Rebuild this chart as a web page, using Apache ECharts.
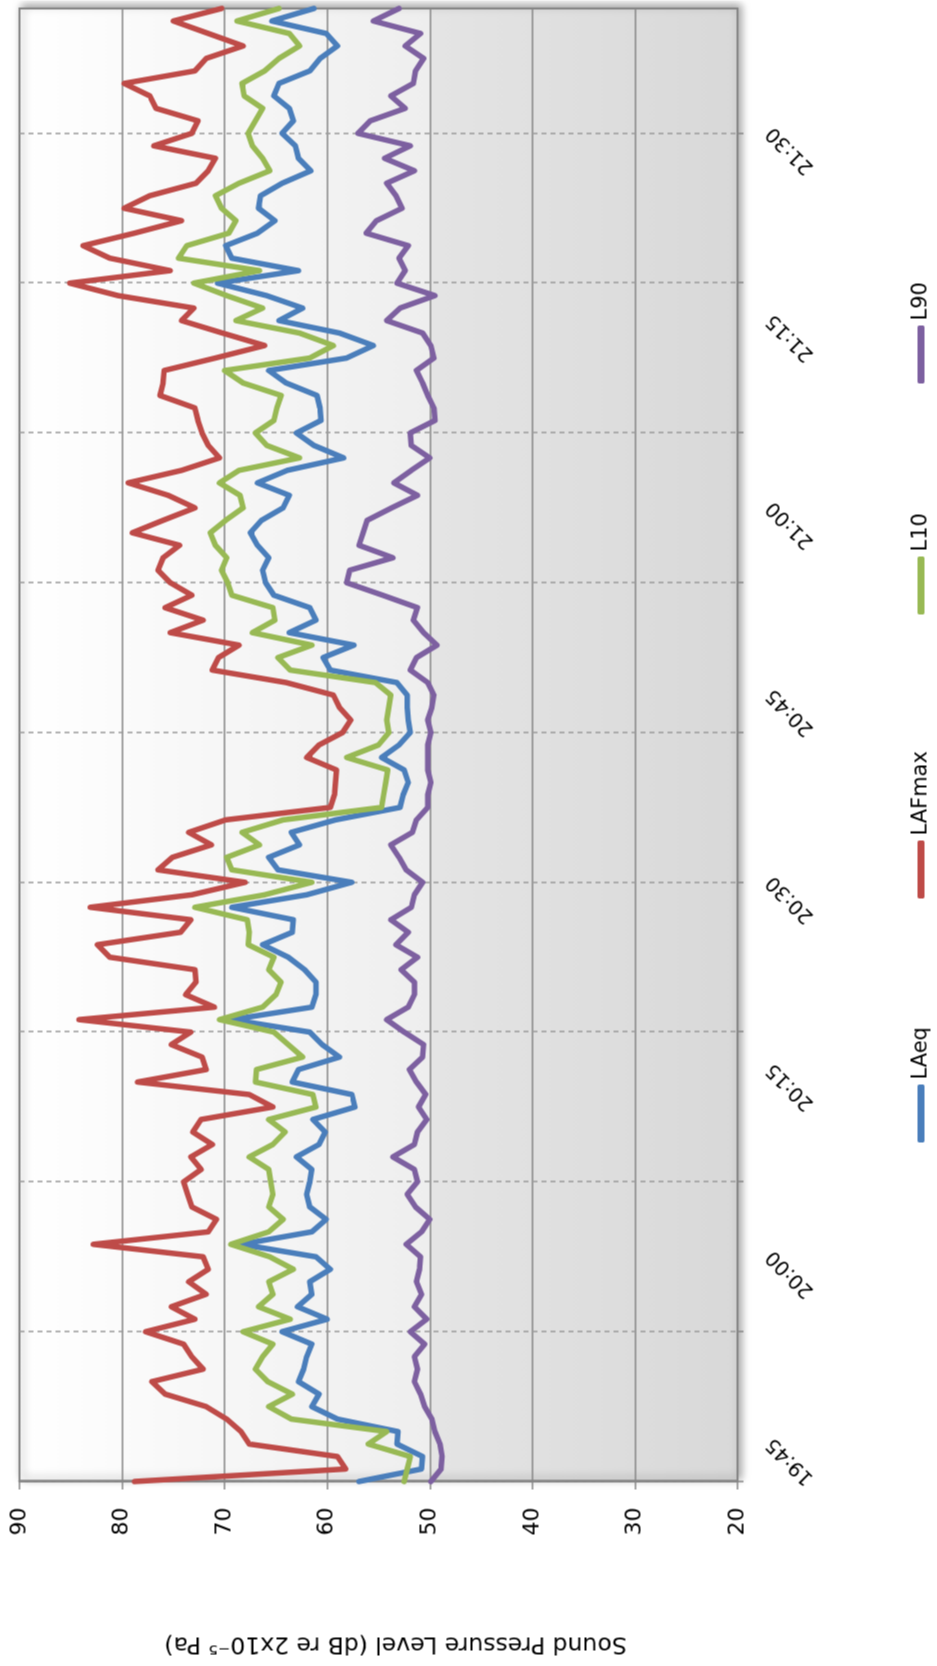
<!DOCTYPE html>
<html>
<head>
<meta charset="utf-8">
<script src="https://cdn.jsdelivr.net/npm/echarts@6/dist/echarts.min.js"></script>
<style>
  html, body { margin: 0; padding: 0; background: #fff; overflow: hidden; }
  body { width: 937px; height: 1666px; position: relative; }
  /* chart is laid out landscape, then turned a quarter turn anticlockwise */
  #chart {
    position: absolute;
    width: 1666px;
    height: 937px;
    left: -364.5px;
    top: 364.5px;
    transform: rotate(-90deg);
  }
</style>
</head>
<body>
<div id="chart"></div>
<script>
// one reading per minute, 19:45 - 21:43
const times = [
  '19:45','19:46','19:47','19:48','19:49','19:50','19:51','19:52','19:53','19:54','19:55','19:56','19:57','19:58','19:59',
  '20:00','20:01','20:02','20:03','20:04','20:05','20:06','20:07','20:08','20:09','20:10','20:11','20:12','20:13','20:14',
  '20:15','20:16','20:17','20:18','20:19','20:20','20:21','20:22','20:23','20:24','20:25','20:26','20:27','20:28','20:29',
  '20:30','20:31','20:32','20:33','20:34','20:35','20:36','20:37','20:38','20:39','20:40','20:41','20:42','20:43','20:44',
  '20:45','20:46','20:47','20:48','20:49','20:50','20:51','20:52','20:53','20:54','20:55','20:56','20:57','20:58','20:59',
  '21:00','21:01','21:02','21:03','21:04','21:05','21:06','21:07','21:08','21:09','21:10','21:11','21:12','21:13','21:14',
  '21:15','21:16','21:17','21:18','21:19','21:20','21:21','21:22','21:23','21:24','21:25','21:26','21:27','21:28','21:29',
  '21:30','21:31','21:32','21:33','21:34','21:35','21:36','21:37','21:38','21:39','21:40','21:41','21:42','21:43'
];

const laeq = [
  56.9, 50.8, 50.7, 53.2, 53.1, 59.0, 61.5, 60.8, 62.8, 62.3, 62.0, 61.5, 64.4, 60.0, 62.9,
  61.5, 61.7, 59.7, 61.1, 68.4, 61.5, 60.1, 61.7, 62.0, 61.7, 61.5, 63.0, 60.8, 60.2, 61.4,
  57.3, 57.6, 63.4, 62.8, 58.8, 60.5, 61.7, 69.3, 61.5, 61.1, 61.1, 62.2, 63.8, 66.3, 63.4,
  63.3, 69.3, 62.0, 57.6, 64.8, 65.7, 62.7, 63.5, 59.2, 52.9, 52.6, 52.1, 52.5, 54.7, 53.0,
  51.9, 52.1, 52.2, 52.2, 53.2, 59.7, 60.4, 57.4, 63.7, 61.1, 61.7, 65.2, 66.0, 66.3, 65.7,
  66.8, 67.5, 66.4, 64.3, 63.7, 66.8, 63.9, 58.4, 61.3, 63.0, 60.6, 60.7, 61.0, 64.0, 65.7,
  58.1, 55.5, 58.8, 64.7, 62.4, 65.9, 70.7, 62.8, 69.3, 69.9, 66.8, 65.1, 66.7, 66.5, 64.4,
  61.6, 62.8, 63.1, 64.4, 63.3, 63.7, 65.2, 64.7, 61.7, 60.7, 59.0, 60.1, 65.4, 61.3
];

const lafmax = [
  78.8, 58.2, 59.0, 67.6, 68.4, 69.8, 71.8, 75.8, 77.1, 72.1, 73.2, 74.0, 77.7, 72.9, 75.2,
  71.8, 73.5, 71.6, 72.1, 82.8, 71.6, 70.8, 73.2, 73.6, 74.0, 72.3, 73.3, 71.2, 73.1, 72.3,
  65.3, 67.6, 78.5, 71.8, 72.2, 75.2, 73.3, 84.2, 71.0, 73.8, 72.8, 72.9, 81.2, 82.4, 74.3,
  73.3, 83.1, 73.2, 68.0, 76.5, 75.1, 71.3, 73.5, 69.9, 59.7, 59.3, 59.2, 59.1, 62.0, 60.8,
  58.5, 57.7, 58.8, 59.4, 64.0, 71.2, 70.6, 68.6, 75.3, 72.1, 75.8, 73.2, 75.3, 76.5, 76.0,
  74.4, 79.0, 76.0, 72.9, 75.5, 79.4, 74.2, 70.5, 71.6, 72.2, 72.6, 72.9, 76.3, 76.0, 75.9,
  70.9, 66.1, 70.2, 74.2, 73.0, 80.4, 85.1, 75.3, 81.2, 83.8, 78.8, 74.2, 79.8, 77.3, 72.8,
  71.6, 70.9, 76.9, 73.2, 72.6, 76.7, 77.3, 79.8, 72.9, 71.8, 68.2, 71.6, 75.0, 70.3
];

const l10 = [
  52.5, 52.2, 51.9, 56.0, 54.2, 63.5, 65.7, 63.4, 65.8, 67.0, 66.3, 65.3, 68.2, 63.6, 66.7,
  65.3, 65.7, 63.3, 65.6, 69.4, 65.7, 64.3, 65.7, 65.3, 65.5, 65.7, 67.6, 65.3, 64.1, 65.7,
  61.1, 61.4, 67.0, 66.9, 62.4, 63.8, 65.2, 70.5, 66.3, 65.0, 64.5, 65.7, 65.2, 67.7, 67.6,
  67.8, 72.9, 66.1, 61.5, 69.3, 69.8, 66.6, 68.3, 64.3, 54.7, 54.5, 54.3, 54.1, 58.1, 55.0,
  54.0, 54.2, 54.0, 53.8, 55.3, 63.6, 64.8, 61.5, 67.3, 65.1, 65.3, 69.3, 69.7, 70.3, 69.8,
  70.9, 71.4, 69.9, 68.2, 68.5, 70.5, 68.6, 62.7, 65.9, 67.0, 65.2, 64.9, 64.5, 68.2, 70.0,
  61.7, 59.4, 62.7, 68.9, 66.3, 69.8, 73.0, 66.6, 74.5, 73.7, 69.6, 68.9, 70.3, 70.9, 68.6,
  65.6, 66.3, 67.3, 67.7, 67.0, 66.3, 68.1, 68.3, 66.1, 64.7, 62.7, 63.7, 68.8, 64.7
];

const l90 = [
  49.9, 48.9, 48.8, 49.0, 49.5, 49.8, 50.5, 50.9, 51.5, 51.2, 51.5, 50.5, 51.9, 50.3, 51.5,
  50.8, 51.3, 51.0, 50.9, 52.3, 50.8, 50.0, 51.4, 52.2, 51.2, 51.5, 53.6, 51.5, 51.2, 50.3,
  51.1, 50.4, 51.3, 52.0, 50.7, 50.6, 52.5, 54.2, 52.1, 51.5, 51.5, 52.8, 51.2, 53.3, 52.1,
  53.8, 51.8, 51.5, 50.7, 52.3, 53.0, 53.8, 51.7, 51.3, 50.2, 50.2, 49.9, 50.2, 50.2, 50.2,
  49.9, 50.2, 49.8, 49.6, 50.2, 51.9, 51.3, 49.3, 50.6, 51.6, 51.2, 54.6, 58.1, 57.8, 53.6,
  56.9, 56.5, 56.1, 53.7, 51.2, 53.5, 51.8, 50.0, 51.8, 51.9, 49.5, 49.6, 50.2, 50.7, 51.3,
  49.6, 49.9, 50.7, 54.2, 52.9, 49.5, 53.2, 52.4, 53.0, 52.1, 56.2, 55.2, 52.7, 53.3, 54.2,
  51.5, 54.4, 51.9, 57.0, 55.8, 52.4, 53.8, 51.6, 51.4, 50.6, 52.4, 50.9, 55.5, 53.0
];

const seriesNames = ['LAeq', 'LAFmax', 'L10', 'L90'];
const seriesData = [laeq, lafmax, l10, l90];
const colors = ['#4A7EBB', '#BE4B48', '#98B954', '#7D60A0'];
const legendLeft = [524, 768, 1052, 1283];

const font = 'DejaVu Sans, Verdana, sans-serif';
const axisGray = '#868686';

const myChart = echarts.init(document.getElementById('chart'));

const option = {
  animation: false,
  grid: {
    left: 185,
    right: 8,
    top: 19,
    bottom: 200,
    show: true,
    borderColor: axisGray,
    borderWidth: 2,
    shadowColor: 'rgba(0,0,0,0.35)',
    shadowBlur: 8,
    shadowOffsetX: 3,
    shadowOffsetY: 3,
    backgroundColor: {
      type: 'linear', x: 0, y: 0, x2: 0, y2: 1,
      colorStops: [
        { offset: 0, color: '#ffffff' },
        { offset: 0.57, color: '#eeeeee' },
        { offset: 0.575, color: '#e4e4e4' },
        { offset: 1, color: '#d8d8d8' }
      ]
    }
  },
  legend: seriesNames.map((name, k) => ({
    data: [name],
    left: legendLeft[k],
    top: 910,
    padding: 0,
    icon: 'roundRect',
    itemWidth: 58,
    itemHeight: 7,
    textStyle: { fontSize: 21, fontFamily: font, color: '#000' }
  })),
  xAxis: {
    type: 'category',
    data: times,
    boundaryGap: false,
    axisLine: { lineStyle: { color: axisGray, width: 2 } },
    axisTick: { interval: 11, length: 6, lineStyle: { color: axisGray, width: 1.5 } },
    splitLine: {
      show: true,
      interval: 11,
      lineStyle: { color: '#9a9a9a', width: 1.5, type: [5, 4] }
    },
    axisLabel: {
      interval: 14,
      rotate: 45,
      align: 'left',
      verticalAlign: 'middle',
      margin: 73,
      fontSize: 20,
      fontFamily: font,
      color: '#000'
    }
  },
  yAxis: {
    type: 'value',
    min: 20,
    max: 90,
    interval: 10,
    name: 'Sound Pressure Level (dB re 2x10⁻⁵ Pa)',
    nameLocation: 'middle',
    nameRotate: 90,
    nameGap: 150,
    nameTextStyle: { fontSize: 23.5, fontFamily: font, color: '#000', padding: [0, 34, 0, 0] },
    axisLine: { show: true, lineStyle: { color: axisGray, width: 2.5 } },
    axisTick: { show: true, length: 8, lineStyle: { color: axisGray, width: 1.5 } },
    splitLine: { lineStyle: { color: axisGray, width: 1.5 } },
    axisLabel: { margin: 26, fontSize: 22, fontFamily: font, color: '#000' }
  },
  series: seriesNames.map((name, k) => ({
    name: name,
    type: 'line',
    data: seriesData[k],
    showSymbol: false,
    symbol: 'none',
    itemStyle: { color: colors[k] },
    lineStyle: { color: colors[k], width: 5.5, cap: 'round', join: 'round' }
  }))
};

myChart.setOption(option);
</script>
</body>
</html>
